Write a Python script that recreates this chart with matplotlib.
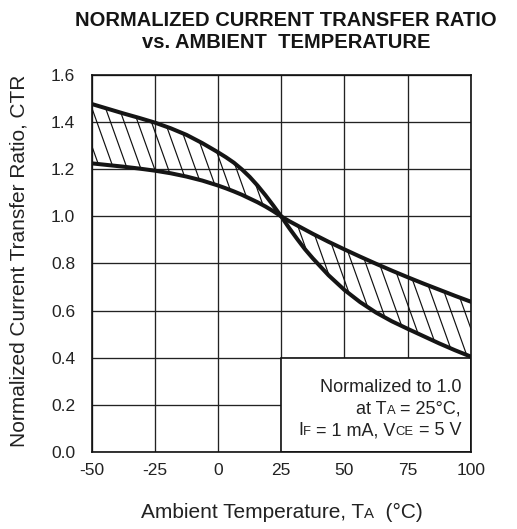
import numpy as np
import matplotlib
matplotlib.use('Agg')
import matplotlib.pyplot as plt
from matplotlib.collections import LineCollection
from matplotlib.patches import Rectangle
from matplotlib.offsetbox import TextArea, HPacker, VPacker, AnnotationBbox

plt.rcParams['font.family'] = ['Liberation Sans', 'DejaVu Sans']

# values
temp = [-50, -43.75, -37.5, -31.25, -25, -18.75, -12.5, -6.25, 0, 3.125, 6.25, 9.375, 12.5,
        15.625, 18.75, 21.875, 25, 28.125, 31.25, 34.375, 37.5, 43.75, 50, 56.25, 62.5,
        68.75, 75, 81.25, 87.5, 93.75, 100]
ctr_a = [1.477, 1.457, 1.437, 1.418, 1.398, 1.374, 1.346, 1.311, 1.272, 1.251, 1.228, 1.2,
         1.168, 1.131, 1.09, 1.046, 1.0, 0.951, 0.905, 0.861, 0.822, 0.75, 0.688, 0.636,
         0.592, 0.555, 0.523, 0.492, 0.461, 0.432, 0.405]
ctr_b = [1.225, 1.218, 1.211, 1.203, 1.194, 1.183, 1.169, 1.152, 1.131, 1.119, 1.106, 1.092,
         1.076, 1.06, 1.042, 1.022, 1.0, 0.98, 0.962, 0.944, 0.926, 0.892, 0.86, 0.829,
         0.799, 0.77, 0.742, 0.715, 0.689, 0.663, 0.638]
xticks = [-50, -25, 0, 25, 50, 75, 100]
yticks = [0.0, 0.2, 0.4, 0.6, 0.8, 1.0, 1.2, 1.4, 1.6]
note_box = (25, 0.0, 100, 0.4)  # T from, CTR from, T to, CTR to

fig = plt.figure(figsize=(5.17, 5.29), dpi=100)
ax = fig.add_axes([0.1774, 0.1456, 0.733, 0.7126])
ax.set_xlim(-50, 100)
ax.set_ylim(0, 1.6)

ax.set_xticks(xticks)
ax.set_xticklabels([str(t) for t in xticks])
ax.set_yticks(yticks)
ax.set_yticklabels(['%.1f' % v for v in yticks])
ax.tick_params(length=0, labelsize=12.5, colors='#222222')
ax.tick_params(axis='x', pad=8)
ax.tick_params(axis='y', pad=12)
ax.grid(True, color='#222222', lw=0.95)
ax.set_axisbelow(True)
for s in ax.spines.values():
    s.set_linewidth(1.2)
    s.set_color('#111111')

# hatched band between the two curves
band = ax.fill_between(temp, ctr_a, ctr_b, facecolor='none', edgecolor='none')
slope = 0.030   # CTR per degC of the hatch strokes
step = 5.4      # degC between strokes
segs = [[(t0, 1.6), (t0 + 1.6 / slope, 0.0)] for t0 in np.arange(-60, 100, step)]
hatch = LineCollection(segs, colors='#111111', linewidths=0.85, zorder=2.8)
ax.add_collection(hatch)
hatch.set_clip_path(band.get_paths()[0], ax.transData)

ax.plot(temp, ctr_a, color='#151515', lw=2.9, zorder=3, solid_joinstyle='round')
ax.plot(temp, ctr_b, color='#151515', lw=2.9, zorder=3, solid_joinstyle='round')

ax.add_patch(Rectangle((note_box[0], note_box[1]), note_box[2] - note_box[0],
                       note_box[3] - note_box[1], facecolor='white',
                       edgecolor='#111111', lw=1.2, zorder=2.5))


def rich(parts, size):
    kids = []
    for txt, small in parts:
        kids.append(TextArea(txt, textprops=dict(fontsize=size * 0.72 if small else size,
                                                 color='#222222')))
    return HPacker(children=kids, align='baseline', pad=0, sep=0)


note = VPacker(children=[
    rich([('Normalized to 1.0', False)], 13),
    rich([('at T', False), ('A', True), (' = 25°C,', False)], 13),
    rich([('I', False), ('F', True), (' = 1 mA, V', False), ('CE', True), (' = 5 V', False)], 13),
], align='right', pad=0, sep=3.5)
ax.add_artist(AnnotationBbox(note, (461, 529 - 409), xycoords='figure pixels',
                             box_alignment=(1, 0.5), frameon=False, zorder=4))

xlab = rich([('Ambient Temperature, T', False), ('A', True), ('  (°C)', False)], 15)
fig.add_artist(AnnotationBbox(xlab, (282, 17), xycoords='figure pixels',
                              box_alignment=(0.5, 0.5), frameon=False))

ax.set_ylabel('Normalized Current Transfer Ratio, CTR', fontsize=15, color='#222222',
              va='center')
ax.yaxis.set_label_coords(-0.192, 0.507)

fig.text(0.553, 1 - 11 / 529, 'NORMALIZED CURRENT TRANSFER RATIO\nvs. AMBIENT  TEMPERATURE',
         ha='center', va='top', fontsize=14.5, fontweight='bold', linespacing=1.2,
         color='#151515')

fig.savefig('out.png', dpi=100)
